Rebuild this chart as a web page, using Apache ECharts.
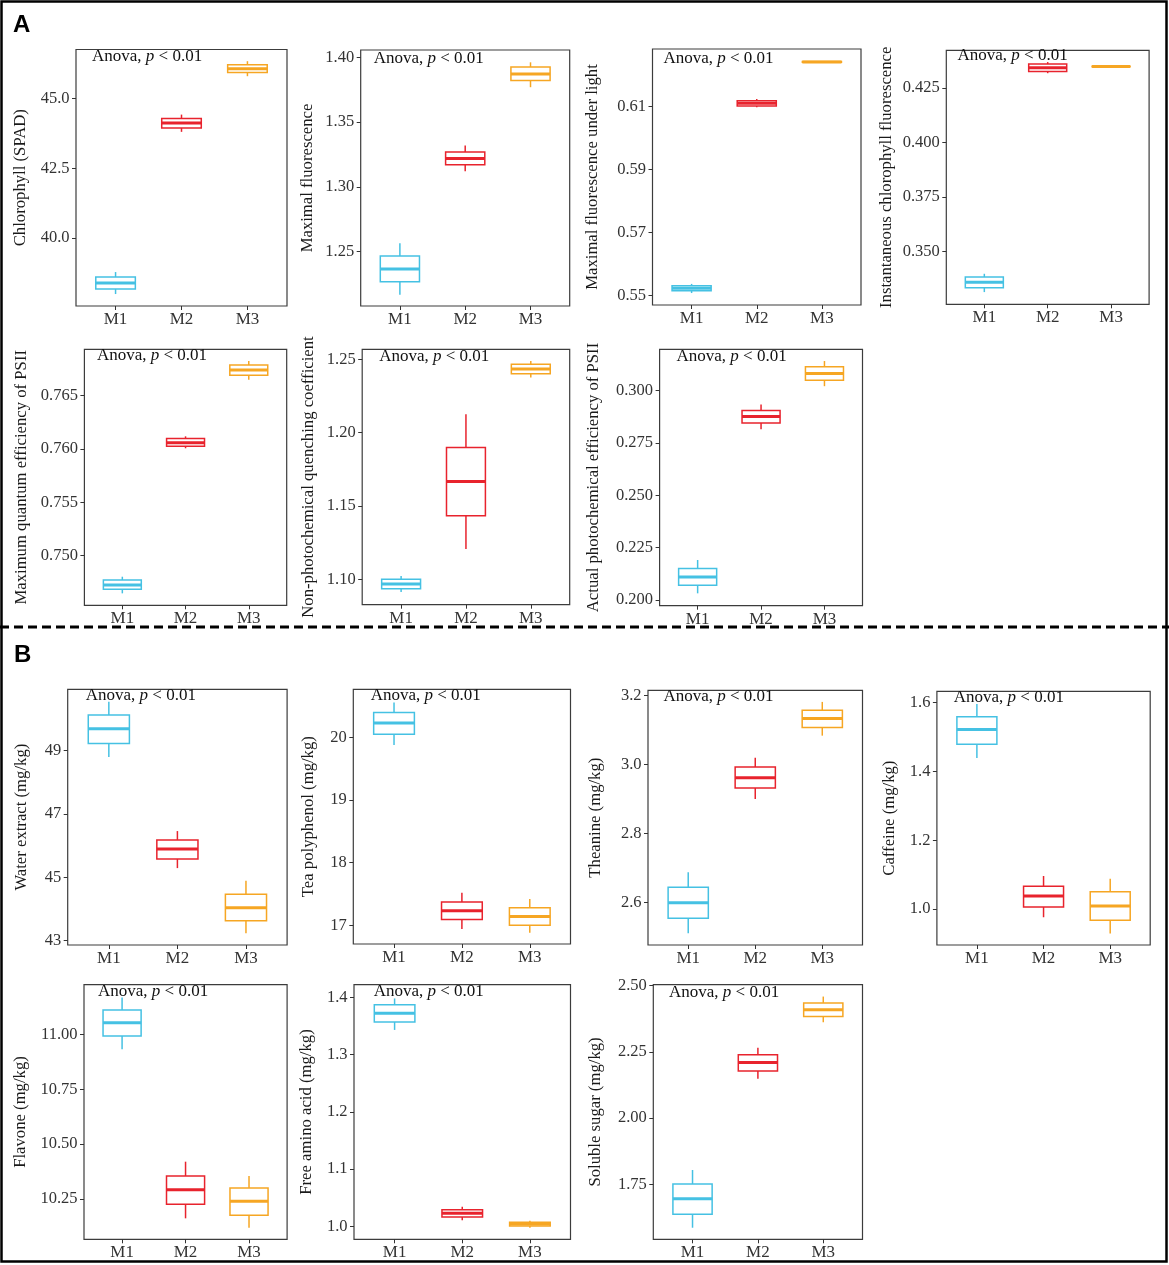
<!DOCTYPE html>
<html>
<head>
<meta charset="utf-8">
<script src="https://cdn.jsdelivr.net/npm/echarts@6/dist/echarts.min.js"></script>
<style>
html,body{margin:0;padding:0;background:#fff;}
#chart{width:1169px;height:1265px;}
</style>
</head>
<body>
<div id="chart"></div>
<script>
// ---------- data: each row = [min, q1, median, q3, max] for M1, M2, M3 ----------
const groups = ['M1', 'M2', 'M3'];
const groupColors = ['#45C1E3', '#E8232D', '#F6A623'];

const chlorophyll = [[37.98, 38.16, 38.38, 38.59, 38.77], [43.81, 43.95, 44.13, 44.29, 44.43], [45.81, 45.94, 46.08, 46.22, 46.35]];
const maxFluor = [[1.2168, 1.2269, 1.2367, 1.2467, 1.2565], [1.312, 1.317, 1.3219, 1.327, 1.332], [1.3769, 1.382, 1.3871, 1.3925, 1.3961]];
const maxFluorLight = [[0.5508, 0.5515, 0.5523, 0.5531, 0.5537], [0.6098, 0.6102, 0.6111, 0.6119, 0.6124], [0.6240, 0.6241, 0.6242, 0.6243, 0.6244]];
const instFluor = [[0.3313, 0.3333, 0.3358, 0.3382, 0.3397], [0.4317, 0.4325, 0.4342, 0.4359, 0.4368], [0.4347, 0.4347, 0.4348, 0.4349, 0.4349]];
const maxQuantum = [[0.74647, 0.74685, 0.74725, 0.74772, 0.74803], [0.76007, 0.76025, 0.7606, 0.76098, 0.76119], [0.7665, 0.76691, 0.76741, 0.76788, 0.76825]];
const npq = [[1.0913, 1.0936, 1.0968, 1.1000, 1.1023], [1.1207, 1.1434, 1.1666, 1.1898, 1.2126], [1.2375, 1.2402, 1.2434, 1.2466, 1.2489]];
const actualPSII = [[0.2032, 0.2070, 0.2110, 0.2151, 0.2191], [0.2815, 0.2844, 0.2875, 0.2904, 0.2933], [0.3020, 0.3048, 0.3081, 0.3113, 0.3140]];
const waterExtract = [[48.80, 49.23, 49.69, 50.13, 50.55], [45.29, 45.58, 45.89, 46.18, 46.46], [43.23, 43.63, 44.04, 44.46, 44.89]];
const teaPolyphenol = [[19.88, 20.05, 20.23, 20.40, 20.56], [16.94, 17.09, 17.23, 17.37, 17.52], [16.88, 17.00, 17.14, 17.28, 17.42]];
const theanine = [[2.510, 2.554, 2.599, 2.644, 2.687], [2.900, 2.932, 2.962, 2.993, 3.020], [3.084, 3.108, 3.134, 3.158, 3.182]];
const caffeine = [[1.439, 1.479, 1.522, 1.559, 1.596], [0.976, 1.006, 1.038, 1.066, 1.096], [0.929, 0.967, 1.009, 1.050, 1.088]];
const flavone = [[10.932, 10.992, 11.053, 11.111, 11.168], [10.162, 10.226, 10.292, 10.355, 10.420], [10.119, 10.176, 10.240, 10.300, 10.355]];
const freeAminoAcid = [[1.343, 1.357, 1.372, 1.387, 1.398], [1.0105, 1.0162, 1.0227, 1.029, 1.034], [0.9976, 1.0005, 1.004, 1.007, 1.0098]];
const solubleSugar = [[1.586, 1.637, 1.695, 1.751, 1.804], [2.149, 2.178, 2.210, 2.239, 2.266], [2.362, 2.384, 2.409, 2.435, 2.459]];

const yTitles = ['Chlorophyll (SPAD)', 'Maximal fluorescence', 'Maximal fluorescence under light', 'Instantaneous chlorophyll fluorescence',
  'Maximum quantum efficiency of PSII', 'Non-photochemical quenching coefficient', 'Actual photochemical efficiency of PSII',
  'Water extract (mg/kg)', 'Tea polyphenol (mg/kg)', 'Theanine (mg/kg)', 'Caffeine (mg/kg)',
  'Flavone (mg/kg)', 'Free amino acid (mg/kg)', 'Soluble sugar (mg/kg)'];

const yTickLabels = [
  ['40.0', '42.5', '45.0'], ['1.25', '1.30', '1.35', '1.40'], ['0.55', '0.57', '0.59', '0.61'], ['0.350', '0.375', '0.400', '0.425'],
  ['0.750', '0.755', '0.760', '0.765'], ['1.10', '1.15', '1.20', '1.25'], ['0.200', '0.225', '0.250', '0.275', '0.300'],
  ['43', '45', '47', '49'], ['17', '18', '19', '20'], ['2.6', '2.8', '3.0', '3.2'], ['1.0', '1.2', '1.4', '1.6'],
  ['10.25', '10.50', '10.75', '11.00'], ['1.0', '1.1', '1.2', '1.3', '1.4'], ['1.75', '2.00', '2.25', '2.50']];

const yRanges = [[37.55, 46.77], [1.2081, 1.4056], [0.5470, 0.6283], [0.3257, 0.4422],
  [0.74535, 0.76935], [1.0827, 1.2568], [0.1973, 0.3196],
  [42.86, 50.94], [16.70, 20.77], [2.476, 3.2157], [0.8953, 1.633],
  [10.0665, 11.226], [0.9773, 1.422], [1.5423, 2.5038]];

const anovaText = 'Anova, ';
const anovaP = 'p';
const anovaRest = ' < 0.01';
const panelLetters = ['A', 'B'];

const panelData = [chlorophyll, maxFluor, maxFluorLight, instFluor, maxQuantum, npq, actualPSII,
  waterExtract, teaPolyphenol, theanine, caffeine, flavone, freeAminoAcid, solubleSugar];

// ---------- layout (pixels): grid [left, top, right, bottom], y-name gap, label anchor [x, y-center] ----------
const gridBoxes = [
  [76, 49.5, 287, 306], [360.7, 50, 569.7, 306], [652.5, 49, 861, 305], [946.3, 50.3, 1149.1, 304.3],
  [84.4, 349.3, 286.7, 605.3], [362.2, 349.3, 569.7, 604.7], [659.6, 349.3, 862.5, 605.7],
  [67.7, 689.3, 287.1, 945], [353.3, 689.3, 570.5, 944], [648, 690.3, 862.5, 945], [936.9, 691.3, 1150.2, 945],
  [84, 984.7, 287.1, 1239.3], [354, 984.7, 570.5, 1239.3], [653.3, 984.7, 862.5, 1239.3]];
const nameGaps = [47, 45, 51.5, 51, 54.5, 45.5, 57, 38, 36.5, 43.5, 39, 54.5, 38.5, 49];
const anovaPos = [[92, 58.5], [373.7, 60.5], [663.4, 60], [957.5, 57.5], [96.9, 356.7], [379.2, 358.3], [676.5, 358.3],
  [85.8, 696.7], [370.7, 696.7], [663.4, 698.3], [953.8, 699], [98, 992.7], [373.7, 992.7], [669, 994]];

const SERIF = "'Liberation Serif', 'Times New Roman', serif";
const BOX_WIDTH = 0.6;

const chart = echarts.init(document.getElementById('chart'), null, { renderer: 'canvas' });

function decimalsOf(s) { const i = s.indexOf('.'); return i < 0 ? 0 : s.length - i - 1; }

const grids = [], xAxes = [], yAxes = [], series = [], titles = [];
panelData.forEach((rows, i) => {
  const [l, t, r, b] = gridBoxes[i];
  grids.push({ left: l, top: t, width: r - l, height: b - t, show: true, borderColor: '#3c3c3c', borderWidth: 1.2, backgroundColor: 'transparent' });
  xAxes.push({
    type: 'value', gridIndex: i, min: 0.4, max: 3.6,
    axisLine: { show: false },
    splitLine: { show: false },
    axisTick: { show: true, length: 4, lineStyle: { color: '#333', width: 1 }, customValues: [1, 2, 3] },
    axisLabel: { customValues: [1, 2, 3], margin: 5, fontFamily: SERIF, fontSize: 17, color: '#333',
      formatter: v => groups[Math.round(v) - 1] }
  });
  const ticks = yTickLabels[i];
  const dec = decimalsOf(ticks[0]);
  const tickVals = ticks.map(parseFloat);
  yAxes.push({
    type: 'value', gridIndex: i, min: yRanges[i][0], max: yRanges[i][1],
    name: yTitles[i], nameLocation: 'middle', nameGap: nameGaps[i],
    nameTextStyle: { fontFamily: SERIF, fontSize: 16.7, color: '#1a1a1a' },
    axisLine: { show: false },
    splitLine: { show: false },
    axisTick: { show: true, length: 4, lineStyle: { color: '#333', width: 1 }, customValues: tickVals },
    axisLabel: { customValues: tickVals, margin: 6.5, fontFamily: SERIF, fontSize: 16.5, color: '#333',
      formatter: v => v.toFixed(dec) }
  });
  series.push({
    type: 'custom', xAxisIndex: i, yAxisIndex: i, clip: false,
    encode: { x: 0, y: [1, 2, 3, 4, 5] },
    data: rows.map((row, k) => [k + 1].concat(row)),
    renderItem: (params, api) => {
      const x = api.value(0);
      const lo = api.value(1), q1 = api.value(2), med = api.value(3), q3 = api.value(4), hi = api.value(5);
      const h = BOX_WIDTH / 2;
      const color = groupColors[params.dataIndex];
      const pTop = api.coord([x, hi]), pBot = api.coord([x, lo]);
      const p3 = api.coord([x, q3]), p1 = api.coord([x, q1]);
      const tl = api.coord([x - h, q3]), br = api.coord([x + h, q1]);
      const mL = api.coord([x - h, med]), mR = api.coord([x + h, med]);
      return {
        type: 'group', children: [
          { type: 'line', shape: { x1: pTop[0], y1: pTop[1], x2: p3[0], y2: p3[1] }, style: { stroke: color, lineWidth: 1.5 } },
          { type: 'line', shape: { x1: p1[0], y1: p1[1], x2: pBot[0], y2: pBot[1] }, style: { stroke: color, lineWidth: 1.5 } },
          { type: 'rect', shape: { x: tl[0], y: tl[1], width: br[0] - tl[0], height: Math.max(br[1] - tl[1], 0.5) },
            style: { fill: '#fff', stroke: color, lineWidth: 1.5 } },
          { type: 'line', shape: { x1: mL[0], y1: mL[1], x2: mR[0], y2: mR[1] }, style: { stroke: color, lineWidth: 3 } }
        ]
      };
    }
  });
  titles.push({
    text: '{n|' + anovaText + '}{i|' + anovaP + '}{n|' + anovaRest + '}',
    left: anovaPos[i][0], top: anovaPos[i][1] - 10, padding: 0,
    textStyle: { fontWeight: 'normal', rich: {
      n: { fontFamily: SERIF, fontSize: 17, color: '#111', fontWeight: 'normal' },
      i: { fontFamily: SERIF, fontSize: 17, color: '#111', fontWeight: 'normal', fontStyle: 'italic' }
    } }
  });
});

chart.setOption({
  animation: false,
  backgroundColor: '#fff',
  title: titles,
  grid: grids,
  xAxis: xAxes,
  yAxis: yAxes,
  series: series,
  graphic: [
    { type: 'rect', shape: { x: 1.5, y: 1.5, width: 1165, height: 1260 }, style: { fill: 'none', stroke: '#000', lineWidth: 2.5 }, silent: true },
    { type: 'line', shape: { x1: 0, y1: 627, x2: 1169, y2: 627 }, style: { stroke: '#000', lineWidth: 3, lineDash: [9, 5] }, silent: true },
    { type: 'text', x: 13, y: 25, style: { text: panelLetters[0], fontFamily: "'Liberation Sans', Arial, sans-serif", fontWeight: 'bold', fontSize: 24, fill: '#000', verticalAlign: 'middle' } },
    { type: 'text', x: 14, y: 655, style: { text: panelLetters[1], fontFamily: "'Liberation Sans', Arial, sans-serif", fontWeight: 'bold', fontSize: 24, fill: '#000', verticalAlign: 'middle' } }
  ]
});
</script>
</body>
</html>
